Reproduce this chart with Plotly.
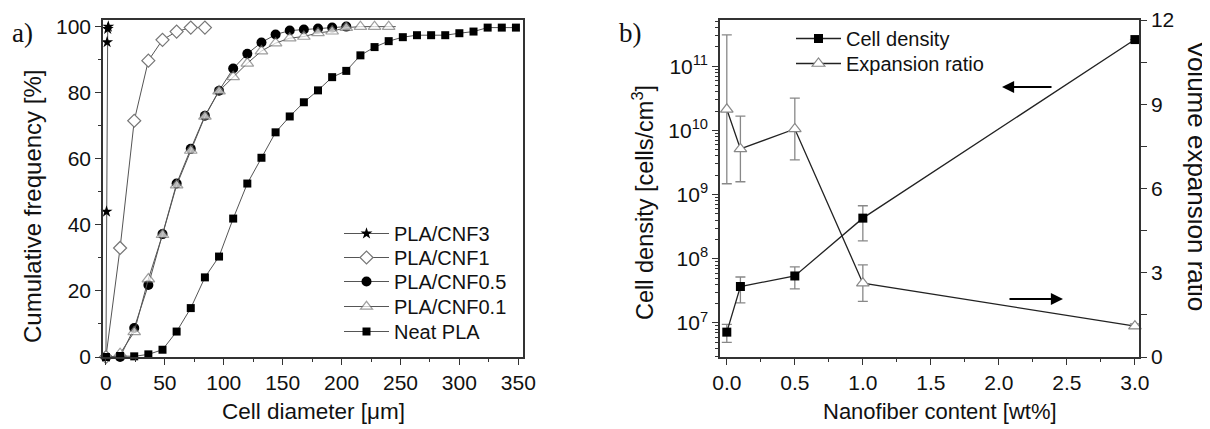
import plotly.graph_objects as go

# ---------------- Panel a data ----------------
cnf3_x = [0, 0.5, 1, 1.5, 2]
cnf3_y = [0, 44, 95.3, 99.3, 100]

cnf1_x = [0, 12, 24, 36, 48, 60, 72, 84]
cnf1_y = [0, 33, 71.5, 89.7, 96, 98.5, 99.7, 99.7]

cnf05_x = [12, 24, 36, 48, 60, 72, 84, 96, 108, 120, 132, 144, 156, 168, 180, 192, 204]
cnf05_y = [0, 8.8, 21.8, 37.2, 52.5, 63, 73, 80.6, 87.3, 91.8, 95.2, 97.6, 98.8, 99.1, 99.4, 99.7, 100]

cnf01_x = [12, 24, 36, 48, 60, 72, 84, 96, 108, 120, 132, 144, 156, 168, 180, 192, 204, 216, 228, 240, 246]
cnf01_y = [1, 7.6, 23.6, 37, 52, 62.5, 72.8, 80.5, 84.8, 88.9, 92.6, 95, 96.5, 97, 98.1, 98.6, 99.7, 100, 100, 100, 100]
cnf01_show = [True] * 20 + [False]

neat_x = [0, 12, 24, 36, 48, 60, 72, 84, 96, 108, 120, 132, 144, 156, 168, 180, 192, 204,
          216, 228, 240, 252, 264, 276, 288, 300, 312, 324, 336, 348]
neat_y = [0, 0.3, 0.2, 0.8, 2.2, 7.7, 14.8, 24.1, 30.4, 41.9, 52.5, 60.3, 68, 72.8, 77.1, 80.7,
          84.7, 86.6, 91.3, 93.8, 95.6, 96.8, 97.4, 97.4, 97.4, 98, 98.5, 99.7, 99.7, 99.7]

# ---------------- Panel b data ----------------
content = [0.0, 0.1, 0.5, 1.0, 3.0]
density = [7.2e6, 3.7e7, 5.4e7, 4.3e8, 2.6e11]
density_up = [2.3e6, 1.5e7, 2.1e7, 2.4e8, 0]
density_down = [2.2e6, 1.65e7, 2.0e7, 2.4e8, 0]
expansion = [8.82, 7.41, 8.12, 2.63, 1.1]
expansion_err = [2.65, 1.17, 1.1, 0.65, 0.08]

FONT = "Liberation Sans"
LINE_GRAY = "#555555"
AX_COL = "#333333"
W, H = 1210, 429
OFF = 8  # page body margin offset


def px(xp):
    return (xp - OFF) / W


def py(yp):
    return 1 - (yp - OFF) / H


fig = go.Figure()

# Panel a traces (each in its own one-entry legend for exact row spacing)
fig.add_trace(go.Scatter(x=cnf3_x, y=cnf3_y, name="PLA/CNF3", mode="lines+markers",
                         line=dict(color=LINE_GRAY, width=1),
                         marker=dict(symbol="star", size=9, color="black"),
                         xaxis="x", yaxis="y", legend="legend", cliponaxis=False))
fig.add_trace(go.Scatter(x=cnf1_x, y=cnf1_y, name="PLA/CNF1", mode="lines+markers",
                         line=dict(color=LINE_GRAY, width=1),
                         marker=dict(symbol="diamond", size=10, color="white",
                                     line=dict(color="#777777", width=1.2)),
                         xaxis="x", yaxis="y", legend="legend2", cliponaxis=False))
fig.add_trace(go.Scatter(x=cnf05_x, y=cnf05_y, name="PLA/CNF0.5", mode="lines+markers",
                         line=dict(color=LINE_GRAY, width=1),
                         marker=dict(symbol="circle", size=10, color="black"),
                         xaxis="x", yaxis="y", legend="legend3", cliponaxis=False))
fig.add_trace(go.Scatter(x=cnf01_x, y=cnf01_y, name="PLA/CNF0.1", mode="lines+markers",
                         line=dict(color=LINE_GRAY, width=1),
                         marker=dict(symbol="triangle-up", color="white",
                                     size=[11 if s else 0 for s in cnf01_show],
                                     line=dict(color="#777777", width=1.2)),
                         xaxis="x", yaxis="y", legend="legend4", cliponaxis=False))
fig.add_trace(go.Scatter(x=neat_x, y=neat_y, name="Neat PLA", mode="lines+markers",
                         line=dict(color=LINE_GRAY, width=1),
                         marker=dict(symbol="square", size=8, color="black"),
                         xaxis="x", yaxis="y", legend="legend5", cliponaxis=False))

# Panel b traces
fig.add_trace(go.Scatter(x=content, y=density, name="Cell density", mode="lines+markers",
                         line=dict(color="#222222", width=1.3),
                         marker=dict(symbol="square", size=9, color="black"),
                         error_y=dict(type="data", array=density_up, arrayminus=density_down,
                                      color="#888888", thickness=1.3, width=5),
                         xaxis="x2", yaxis="y2", legend="legend6", cliponaxis=False))
fig.add_trace(go.Scatter(x=content, y=expansion, name="Expansion ratio", mode="lines+markers",
                         line=dict(color="#222222", width=1.3),
                         marker=dict(symbol="triangle-up", size=11, color="white",
                                     line=dict(color="#888888", width=1.2)),
                         error_y=dict(type="data", array=expansion_err,
                                      color="#888888", thickness=1.3, width=5),
                         xaxis="x2", yaxis="y3", legend="legend7", cliponaxis=False))

tickfont = dict(family=FONT, size=21, color="#111111")
common = dict(showgrid=False, zeroline=False, linecolor=AX_COL, linewidth=1.5,
              ticks="outside", ticklen=6, tickwidth=1.3, tickcolor=AX_COL,
              tickfont=tickfont, automargin=False)

legfont = dict(family=FONT, size=20, color="#111111")


def leg(xp, yc):
    return dict(x=px(xp), y=py(yc - 21), xanchor="left", yanchor="top",
                bgcolor="rgba(0,0,0,0)", itemwidth=45, tracegroupgap=0, font=legfont)


fig.update_layout(
    template="none",
    width=W, height=H, autosize=False,
    margin=dict(l=0, r=0, t=0, b=0, pad=0),
    paper_bgcolor="white", plot_bgcolor="white",
    showlegend=True,
    xaxis=dict(domain=[px(103), px(523)], range=[-2.5, 354], anchor="y",
               tickvals=[0, 50, 100, 150, 200, 250, 300, 350], mirror=True,
               minor=dict(ticks="outside", ticklen=3, dtick=25, tick0=0, tickcolor=AX_COL),
               **common),
    yaxis=dict(domain=[py(357), py(20)], range=[0, 102], anchor="x",
               tickvals=[0, 20, 40, 60, 80, 100], mirror=True,
               minor=dict(ticks="outside", ticklen=3, dtick=10, tick0=0, tickcolor=AX_COL),
               **common),
    xaxis2=dict(domain=[px(720), px(1139)], range=[-0.05, 3.03], anchor="y2",
                tickvals=[0, 0.5, 1.0, 1.5, 2.0, 2.5, 3.0],
                ticktext=["0.0", "0.5", "1.0", "1.5", "2.0", "2.5", "3.0"], mirror=True,
                minor=dict(ticks="outside", ticklen=3, dtick=0.25, tick0=0, tickcolor=AX_COL),
                **common),
    yaxis2=dict(domain=[py(357), py(20)], type="log", range=[6.47, 11.72], anchor="x2",
                tickvals=[1e7, 1e8, 1e9, 1e10, 1e11],
                ticktext=["10<sup>7</sup>", "10<sup>8</sup>", "10<sup>9</sup>",
                          "10<sup>10</sup>", "10<sup>11</sup>"],
                minor=dict(ticks="outside", ticklen=3, tickcolor=AX_COL,
                           tickvals=[m * 10 ** e for e in range(6, 12) for m in range(2, 10)]),
                **common),
    yaxis3=dict(domain=[py(357), py(20)], range=[0, 12], anchor="x2", overlaying="y2",
                side="right", tickvals=[0, 3, 6, 9, 12],
                minor=dict(ticks="outside", ticklen=6, dtick=1.5, tick0=0, tickcolor=AX_COL),
                **common),
    legend=leg(339, 235),
    legend2=leg(339, 259),
    legend3=leg(339, 283),
    legend4=leg(339, 308),
    legend5=leg(339, 333),
    legend6=leg(791, 40),
    legend7=leg(791, 65),
)

ann = [
    dict(text="a)", x=px(22), y=py(33), font=dict(family="Liberation Serif", size=27, color="#111111")),
    dict(text="b)", x=px(630), y=py(33), font=dict(family="Liberation Serif", size=27, color="#111111")),
    dict(text="Cumulative frequency [%]", x=px(33), y=py(207), textangle=-90,
         font=dict(family=FONT, size=24, color="#111111")),
    dict(text="Cell diameter [μm]", x=px(313), y=py(411),
         font=dict(family=FONT, size=22.5, color="#111111")),
    dict(text="Cell density [cells/cm<sup>3</sup>]", x=px(643), y=py(203), textangle=-90,
         font=dict(family=FONT, size=23.5, color="#111111")),
    dict(text="Nanofiber content [wt%]", x=px(940), y=py(411),
         font=dict(family=FONT, size=22, color="#111111")),
    dict(text="Volume expansion ratio", x=px(1197), y=py(176), textangle=90,
         font=dict(family=FONT, size=26, color="#111111")),
]
for a in ann:
    a.update(xref="paper", yref="paper", showarrow=False, xanchor="center", yanchor="middle")
    fig.add_annotation(**a)

# arrows
fig.add_annotation(xref="paper", yref="paper", x=px(1002), y=py(87), ax=51, ay=0, text="",
                   showarrow=True, arrowhead=2, arrowsize=1.1, arrowwidth=2.2, arrowcolor="black")
fig.add_annotation(xref="paper", yref="paper", x=px(1063), y=py(299), ax=-55, ay=0, text="",
                   showarrow=True, arrowhead=2, arrowsize=1.1, arrowwidth=2.2, arrowcolor="black")

fig.write_html("out.html")
